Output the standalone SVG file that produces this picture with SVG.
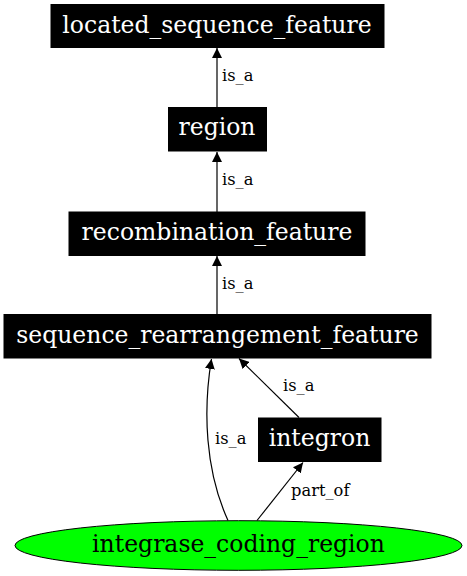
<svg xmlns="http://www.w3.org/2000/svg" width="467" height="576" viewBox="0 0 467 576">
<style>
.box{fill:#000;stroke:#000;}
.nt{font-family:"DejaVu Serif",serif;font-size:23.5px;fill:#fff;text-anchor:middle;}
.et{font-family:"DejaVu Serif",serif;font-size:16.3px;fill:#000;}
.e{fill:none;stroke:#000;stroke-width:1.2;}
</style>
<defs>
<marker id="ah" viewBox="0 0 10 10" refX="10" refY="5" markerWidth="10" markerHeight="10" markerUnits="userSpaceOnUse" orient="auto">
<path d="M0,0 L10,5 L0,10 z" fill="#000"/>
</marker>
</defs>
<rect width="467" height="576" fill="#fff"/>
<g id="edges">
<path class="e" d="M217,107 L217,48" marker-end="url(#ah)"/>
<text class="et" x="222" y="81">is_a</text>
<path class="e" d="M217,212 L217,152" marker-end="url(#ah)"/>
<text class="et" x="222" y="185">is_a</text>
<path class="e" d="M217,314 L217,256" marker-end="url(#ah)"/>
<text class="et" x="222" y="289">is_a</text>
<path class="e" d="M299,417.5 L239,358.5" marker-end="url(#ah)"/>
<text class="et" x="283" y="391">is_a</text>
<path class="e" d="M228,520.5 C205,470 203,410 211.5,359" marker-end="url(#ah)"/>
<text class="et" x="215" y="444">is_a</text>
<path class="e" d="M257,520.5 L303,462.5" marker-end="url(#ah)"/>
<text class="et" x="291" y="496">part_of</text>
</g>
<g id="located_sequence_feature">
<rect class="box" x="51" y="4.5" width="333" height="43"/>
<text class="nt" x="217" y="32.5">located_sequence_feature</text>
</g>
<g id="region">
<rect class="box" x="168.5" y="107.5" width="98" height="43.5"/>
<text class="nt" x="217" y="135">region</text>
</g>
<g id="recombination_feature">
<rect class="box" x="69" y="212" width="296" height="43.5"/>
<text class="nt" x="217" y="239.5">recombination_feature</text>
</g>
<g id="sequence_rearrangement_feature">
<rect class="box" x="4" y="314.5" width="427" height="43.5"/>
<text class="nt" x="217.5" y="342.5">sequence_rearrangement_feature</text>
</g>
<g id="integron">
<rect class="box" x="258.5" y="418" width="122.5" height="43.5"/>
<text class="nt" x="319.5" y="446">integron</text>
</g>
<g id="integrase_coding_region">
<ellipse cx="238.5" cy="545.5" rx="223.5" ry="24.8" fill="#00ff00" stroke="#000" stroke-width="1"/>
<text class="nt" x="238.5" y="552" style="fill:#000">integrase_coding_region</text>
</g>
</svg>
